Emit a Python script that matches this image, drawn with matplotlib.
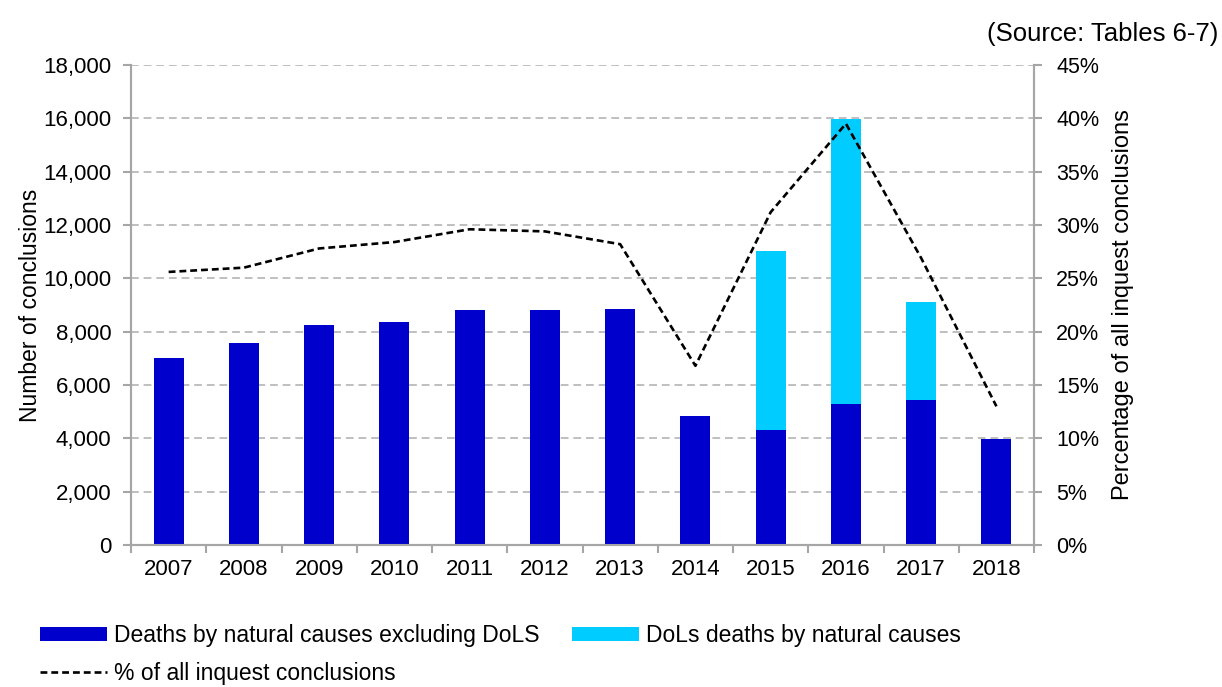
import matplotlib.pyplot as plt
import numpy as np
from matplotlib.ticker import FuncFormatter, MultipleLocator

plt.rcParams['font.family'] = ['Liberation Sans', 'DejaVu Sans']
plt.rcParams['font.size'] = 16

years = ['2007', '2008', '2009', '2010', '2011', '2012',
         '2013', '2014', '2015', '2016', '2017', '2018']
natural_excl_dols = [7000, 7560, 8260, 8350, 8810, 8810,
                     8860, 4850, 4300, 5290, 5430, 3970]
dols_natural = [0, 0, 0, 0, 0, 0, 0, 0, 6710, 10680, 3670, 0]
pct_all = [25.6, 26.0, 27.8, 28.4, 29.6, 29.4,
           28.2, 16.8, 31.2, 39.5, 26.9, 13.0]

dark = '#0000CC'
light = '#00CCFF'
grey = '#A6A6A6'

fig = plt.figure(figsize=(12.22, 6.87), dpi=100)
ax = fig.add_axes([0.1072, 0.2067, 0.7390, 0.6987])
x = np.arange(len(years))

b1 = ax.bar(x, natural_excl_dols, width=0.4, color=dark, zorder=3,
            label='Deaths by natural causes excluding DoLS')
b2 = ax.bar(x, dols_natural, width=0.4, bottom=natural_excl_dols, color=light,
            zorder=3, label='DoLs deaths by natural causes')

ax.set_xlim(-0.5, len(years) - 0.5)
ax.set_ylim(0, 18000)
ax.yaxis.set_major_locator(MultipleLocator(2000))
ax.yaxis.set_major_formatter(FuncFormatter(lambda v, p: f'{int(v):,}'))
ax.grid(axis='y', color='#BFBFBF', linestyle=(0, (4, 2.5)), linewidth=1.4, zorder=0)
ax.set_xticks(x)
ax.set_xticklabels(years)
ax.set_xticks(np.arange(-0.5, len(years)), minor=True)
ax.tick_params(axis='x', which='major', length=0, pad=10)
ax.tick_params(axis='x', which='minor', length=6, color=grey, width=1.5)
ax.tick_params(axis='y', length=6, color=grey, width=1.5, pad=8)
ax.set_ylabel('Number of conclusions', fontsize=16.5, labelpad=1)

ax2 = ax.twinx()
line, = ax2.plot(x, pct_all, color='black', linestyle=(0, (2.6, 1.5)), linewidth=1.9,
                 zorder=4, label='% of all inquest conclusions')
ax2.set_ylim(0, 45)
ax2.yaxis.set_major_locator(MultipleLocator(5))
ax2.yaxis.set_major_formatter(FuncFormatter(lambda v, p: f'{int(v)}%'))
ax2.tick_params(axis='y', length=6, color=grey, width=1.5, pad=10, labelsize=15.5)
ax2.set_ylabel('Percentage of all inquest conclusions', fontsize=17, labelpad=9)

for a in (ax, ax2):
    a.spines['top'].set_visible(False)
    for s in ('left', 'right', 'bottom'):
        a.spines[s].set_color(grey)
        a.spines[s].set_linewidth(1.5)

fig.text(0.997, 0.951, '(Source: Tables 6-7)', ha='right', va='center', fontsize=18.5)

fig.legend(handles=[b1, line, b2], loc='upper left', bbox_to_anchor=(0.016, 0.121),
           ncol=2, frameon=False, fontsize=16.5, handlelength=2.9, handleheight=0.55,
           handletextpad=0.3, columnspacing=1.45, labelspacing=0.62)

fig.savefig('out.png', dpi=100)
